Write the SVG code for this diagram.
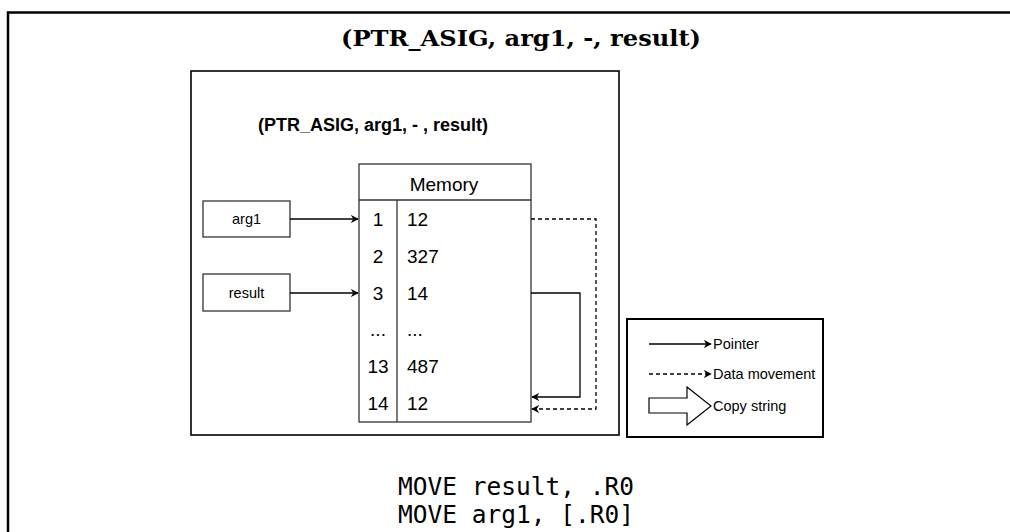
<svg xmlns="http://www.w3.org/2000/svg" width="1010" height="532" viewBox="0 0 1010 532">
<style>
.lbl{font-family:"Liberation Sans",Arial,sans-serif;fill:#000}
.cell{font-size:19px}
.box{fill:#fff;stroke:#333;stroke-width:1.3}
.con{fill:none;stroke:#000;stroke-width:1.3}
.dash{stroke-dasharray:4 3}
</style>
<defs>
<marker id="arr" viewBox="0 0 10 10" refX="9" refY="5" markerWidth="8" markerHeight="8" markerUnits="userSpaceOnUse" orient="auto">
<path d="M0,0 L10,5 L0,10 L3,5 Z" fill="#000"/>
</marker>
</defs>
<rect width="1010" height="532" fill="#fff"/>
<path d="M8,534 V12.5 H1012" fill="none" stroke="#000" stroke-width="2.5"/>
<text x="521" y="46" font-family="DejaVu Serif, Liberation Serif, serif" font-weight="bold" font-size="22" text-anchor="middle" textLength="360" lengthAdjust="spacingAndGlyphs">(PTR_ASIG, arg1, -, result)</text>

<g id="frame">
<rect x="191" y="71" width="428" height="364" fill="#fff" stroke="#000" stroke-width="1.6"/>
<text class="lbl" x="373" y="131" font-size="18" font-weight="bold" text-anchor="middle">(PTR_ASIG, arg1, - , result)</text>
</g>

<g id="arg1">
<rect class="box" x="203" y="201" width="87" height="36"/>
<text class="lbl" x="246.5" y="224" font-size="14.5" text-anchor="middle">arg1</text>
</g>
<g id="result">
<rect class="box" x="203" y="274" width="87" height="37"/>
<text class="lbl" x="246.5" y="297.5" font-size="14.5" text-anchor="middle">result</text>
</g>

<g id="memory">
<rect class="box" x="359" y="164" width="172" height="258"/>
<line x1="359" y1="200" x2="531" y2="200" stroke="#333" stroke-width="1.3"/>
<line x1="397" y1="200" x2="397" y2="422" stroke="#333" stroke-width="1.3"/>
<text class="lbl cell" x="444" y="191" text-anchor="middle">Memory</text>
<g class="lbl cell" text-anchor="middle">
<text x="378" y="226">1</text>
<text x="378" y="263">2</text>
<text x="378" y="300">3</text>
<text x="378" y="336">...</text>
<text x="378" y="373">13</text>
<text x="378" y="410">14</text>
</g>
<g class="lbl cell">
<text x="407" y="226">12</text>
<text x="407" y="263">327</text>
<text x="407" y="300">14</text>
<text x="407" y="336">...</text>
<text x="407" y="373">487</text>
<text x="407" y="410">12</text>
</g>
</g>

<g id="connectors">
<path class="con" d="M290,219 H358" marker-end="url(#arr)"/>
<path class="con" d="M290,293 H358" marker-end="url(#arr)"/>
<path class="con" d="M531,293 H580 V397 H532" marker-end="url(#arr)"/>
<path class="con dash" d="M531,219 H596 V409 H532" marker-end="url(#arr)"/>
</g>

<g id="legend">
<rect x="627" y="319" width="196" height="118" fill="#fff" stroke="#000" stroke-width="2"/>
<path class="con" d="M649,344 H711" marker-end="url(#arr)"/>
<text class="lbl" x="713" y="349" font-size="14.5">Pointer</text>
<path class="con dash" d="M649,374 H711" marker-end="url(#arr)"/>
<text class="lbl" x="713" y="379" font-size="14.5">Data movement</text>
<polygon points="649,398 687,398 687,387 711,406 687,425 687,413 649,413" fill="#fff" stroke="#000" stroke-width="1.2"/>
<text class="lbl" x="713" y="411" font-size="14.5">Copy string</text>
</g>

<g id="code" font-family="DejaVu Sans Mono, Liberation Mono, monospace" font-size="24.5" fill="#000">
<text x="398" y="495">MOVE result, .R0</text>
<text x="398" y="523">MOVE arg1, [.R0]</text>
</g>
</svg>
